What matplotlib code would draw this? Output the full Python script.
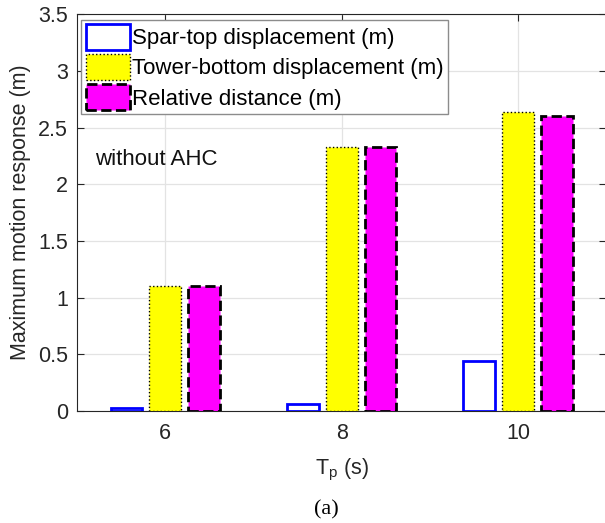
import numpy as np
import matplotlib
matplotlib.use("Agg")
import matplotlib.pyplot as plt

# peak wave periods and maximum responses (m)
tp = [6, 8, 10]
spar_top = [0.025, 0.06, 0.442]
tower_bottom = [1.104, 2.33, 2.64]
relative = [1.099, 2.332, 2.605]
labels = ["Spar-top displacement (m)", "Tower-bottom displacement (m)", "Relative distance (m)"]

plt.rcParams["font.family"] = ["Liberation Sans", "DejaVu Sans"]
plt.rcParams["mathtext.fontset"] = "custom"
plt.rcParams["mathtext.rm"] = "Liberation Sans"

fig = plt.figure(figsize=(6.05, 5.23), dpi=100)
ax = fig.add_axes([0.1273, 0.2147, 0.875, 0.7576])

x = np.array(tp, dtype=float)
off = 0.44
w = 0.36
ax.bar(x - off, spar_top, w, facecolor="white", edgecolor="#0000ff", linewidth=2, label=labels[0], zorder=3)
ax.bar(x, tower_bottom, w, facecolor="#ffff00", edgecolor="black", linewidth=1.0, linestyle=":", label=labels[1], zorder=3)
ax.bar(x + off, relative, w, facecolor="#ff00ff", edgecolor="black", linewidth=2, linestyle="--", label=labels[2], zorder=3)

ax.set_xlim(5, 11)
ax.set_ylim(0, 3.5)
ax.set_xticks(tp)
ax.set_yticks(np.arange(0, 3.51, 0.5))
ax.set_yticklabels(["0", "0.5", "1", "1.5", "2", "2.5", "3", "3.5"])
ax.grid(True, color="#e3e3e3", linewidth=0.9, zorder=0)
ax.set_axisbelow(True)
ax.tick_params(direction="in", top=True, right=True, length=5, width=0.8,
               labelsize=15.5, colors="#262626")
ax.tick_params(axis="x", pad=9)
ax.tick_params(axis="y", pad=6.5)
for s in ax.spines.values():
    s.set_color("#262626")
    s.set_linewidth(0.8)

ax.set_xlabel("T$_\\mathregular{p}$ (s)", fontsize=15.5, color="#262626", labelpad=9)
ax.set_ylabel("Maximum motion response (m)", fontsize=15.5, color="#262626", labelpad=5)

ax.text(5.2, 2.215, "without AHC", fontsize=16, va="center", ha="left", color="#111111")

leg = ax.legend(loc="upper left", bbox_to_anchor=(0.008, 0.987), fontsize=16, frameon=True,
                fancybox=False, framealpha=1, edgecolor="#8c8c8c", borderpad=0.2,
                handlelength=2.0, handleheight=1.4, handletextpad=0.1,
                labelspacing=0.2, borderaxespad=0)
leg.get_frame().set_linewidth(1.0)

fig.text(0.54, 0.006, "(a)", fontsize=16, family="Liberation Serif", ha="center", va="bottom")

fig.savefig("out.png", dpi=100)
